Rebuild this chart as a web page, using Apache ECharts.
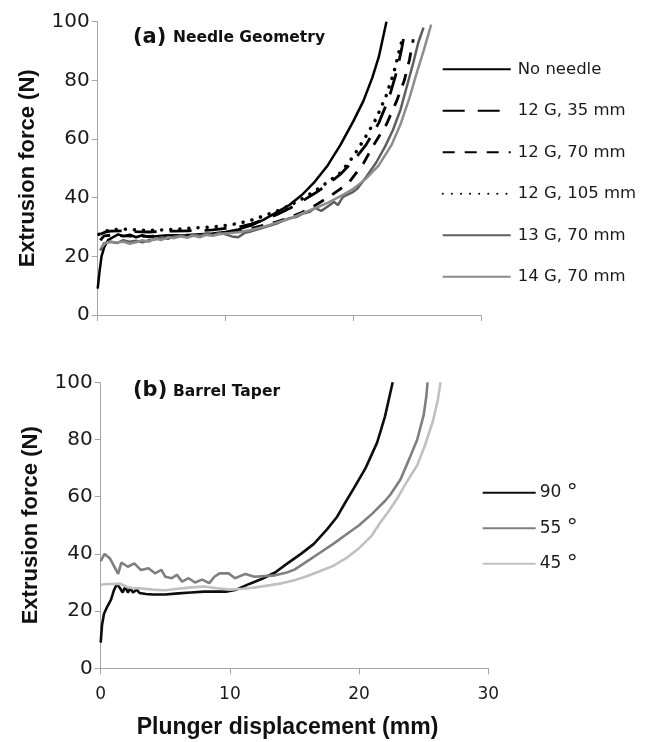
<!DOCTYPE html>
<html>
<head>
<meta charset="utf-8">
<script src="https://cdn.jsdelivr.net/npm/echarts@6/dist/echarts.min.js"></script>
<style>
html,body{margin:0;padding:0;background:#fff;}
#chart{width:650px;height:742px;}
</style>
</head>
<body>
<div id="chart"></div>
<script>
// ---------- Data (x = plunger displacement mm, y = extrusion force N) ----------
const xTicks = [0, 10, 20, 30];
const yTicks = [0, 20, 40, 60, 80, 100];

// Panel (a) Needle Geometry
const namesA = ['No needle', '12 G, 35 mm', '12 G, 70 mm', '12 G, 105 mm', '13 G, 70 mm', '14 G, 70 mm'];
const noNeedle = [[0,9],[0.15,15],[0.3,20],[0.5,23],[0.8,25.5],[1.2,26.5],[1.6,27.5],[2,26.8],[2.5,27.4],[3,26.5],[3.5,27.2],[4,26.6],[5,27],[6,27.2],[7,27.1],[8,27.5],[9,27.8],[10,28.3],[11,29.2],[12,30.5],[13,32.5],[14,35],[15,37.5],[16,41],[17,45.5],[18,51],[19,58],[20,66],[20.8,73],[21.5,81],[22,88],[22.6,100]];
const g12_35 = [[0.2,27.5],[0.6,28.3],[1,28.6],[2,28.7],[3,28.4],[4,28.3],[5,28.5],[6,28.6],[7,28.7],[8,28.8],[9,29],[10,29.5],[11,30],[12,31],[13,32.5],[14,34.2],[15,36.3],[16,38.8],[17,41.5],[18,44.5],[19,48],[20,52.5],[21,58],[22,65.5],[22.8,74],[23.4,83],[23.8,91],[24.1,98]];
const g12_70 = [[0.2,25.5],[0.5,27],[1,27.2],[2,27],[3,26.8],[4,26.8],[5,27],[6,27],[7,27.2],[8,27.3],[9,27.5],[10,28],[11,28.6],[12,29.5],[13,30.6],[14,31.8],[15,33.2],[16,35],[17,37.3],[18,40],[19,43],[19.7,45.4],[20.8,51.7],[21.6,58],[22.6,65],[23.4,73],[24,80],[24.4,87],[24.7,94]];
const g12_105 = [[0.1,27.5],[0.5,28.5],[1,29],[2,29.3],[3,29],[4,28.8],[5,29],[6,29.2],[7,29.5],[8,29.8],[9,30],[10,30.5],[11,31.2],[12,32.3],[13,33.8],[14,35.4],[15,37.3],[16,39.6],[17,42.3],[18,45.3],[19,48.5],[20,54],[21,61],[21.8,67],[22.6,75],[23.2,83],[23.6,90],[23.9,95]];
const g13_70 = [[0.2,22],[0.5,24.5],[1,25],[1.5,24.5],[2,25.5],[2.5,25],[3,25.3],[3.5,24.8],[4,25.5],[4.5,25.8],[5,26.5],[5.5,26],[6,26.8],[6.5,27],[7,26.5],[7.5,27.5],[8,27],[8.5,27.8],[9,27.2],[9.5,28],[10,27.5],[10.5,26.8],[11,26.5],[11.5,28],[12,28.5],[13,29.8],[14,31.2],[15,33],[15.6,33.5],[16,34.5],[16.6,35.2],[17,36.5],[17.5,35.5],[18,37],[18.5,38.5],[18.8,37.5],[19.2,40.3],[20,42],[20.3,43],[21,47],[21.8,52],[22.5,57.5],[23.1,63],[23.7,70],[24.2,78],[24.7,86],[25.1,93],[25.5,98]];
const g14_70 = [[0.3,23],[0.6,24.5],[1,25],[1.5,24.7],[2,25],[2.5,24.3],[3,24.8],[3.5,25.5],[4,25],[4.5,26],[5,25.6],[5.5,26.5],[6,26.2],[6.5,26.8],[7,26.4],[7.5,27],[8,26.5],[8.5,27.3],[9,27],[9.5,27.5],[10,27.8],[11,28.2],[12,29],[13,30.1],[14,31.5],[15,32.8],[16,34.6],[17,36.4],[18,38.2],[19,40.5],[20,43],[21,46.5],[22,51],[23,58],[23.7,65],[24.4,74],[25,83],[25.5,90],[26.1,99]];

// Panel (b) Barrel Taper
const namesB = ['90 °', '55 °', '45 °'];
const taper90 = [[0,9],[0.1,15],[0.25,19],[0.5,21.5],[0.8,24],[1.0,27],[1.25,29.5],[1.5,28],[1.7,26.5],[1.9,28.5],[2.1,26.5],[2.3,28],[2.5,26.5],[2.8,27.5],[3,26.3],[3.5,26],[4,25.8],[5,25.8],[6,26.2],[7,26.5],[8,26.8],[9,26.8],[9.7,26.8],[10.5,27.5],[11.5,29.5],[12.5,31.3],[13.5,33.5],[14.4,36.5],[15.5,40],[16.5,43.5],[17.5,48.5],[18.3,53],[19,58.5],[19.6,63],[20.5,70],[21.4,79],[22,88],[22.6,100]];
const taper55 = [[0,37.5],[0.3,40],[0.7,38.5],[1.0,36],[1.35,33],[1.6,37],[2.1,35.5],[2.6,36.7],[3.1,34.4],[3.7,35],[4.2,33.2],[4.7,34.4],[5,32],[5.5,31.5],[5.9,32.7],[6.3,30.3],[6.8,31.5],[7.3,30],[7.85,31],[8.4,29.8],[8.8,32],[9.2,33.2],[9.9,33.2],[10.4,31.5],[11.2,33],[11.9,32],[13.5,32.5],[14.4,33.5],[15,34.5],[16,37.5],[17,40.5],[18,43.5],[19,46.8],[20,50],[21,54],[22,58.5],[22.4,60.6],[23.2,66],[23.9,73.4],[24.5,80],[25,88.6],[25.2,95],[25.3,100]];
const taper45 = [[0,29.2],[0.5,29.5],[1,29.5],[1.5,29.6],[2,28.5],[2.5,28],[3,28],[4,27.5],[5,27.3],[6,27.8],[7,28.3],[8,28.6],[9,28],[10,27.5],[11,27.8],[12,28.3],[13,29],[14,29.7],[15,30.8],[16,32.3],[17,34],[18,35.8],[19,38.5],[20,42],[21,46.5],[21.6,50.7],[22.3,55],[22.9,59],[23.6,64.5],[24.5,71],[25.1,78],[25.7,86.2],[26.1,94],[26.3,100]];

// ---------- Chart ----------
const chart = echarts.init(document.getElementById('chart'), null, {renderer: 'canvas'});
const axisColor = '#a6a6a6';
const labelColor = '#1a1a1a';

function xAxisCfg(gridIndex, showLabels) {
  return {
    type: 'value', gridIndex: gridIndex,
    min: xTicks[0], max: xTicks[xTicks.length - 1], interval: xTicks[1] - xTicks[0],
    axisLine: {show: true, lineStyle: {color: axisColor, width: 1}},
    axisTick: {show: true, inside: false, length: 6, lineStyle: {color: axisColor}},
    axisLabel: {show: showLabels, margin: 18, color: labelColor, fontFamily: 'DejaVu Sans', fontSize: 17},
    splitLine: {show: false},
    name: showLabels ? 'Plunger displacement (mm)' : '',
    nameLocation: 'middle', nameGap: 48,
    nameTextStyle: {fontFamily: 'Liberation Sans', fontWeight: 'bold', fontSize: 23, color: '#111', padding: [0, 14, 0, 0]}
  };
}
function yAxisCfg(gridIndex) {
  return {
    type: 'value', gridIndex: gridIndex,
    min: yTicks[0], max: yTicks[yTicks.length - 1], interval: yTicks[1] - yTicks[0],
    axisLine: {show: true, lineStyle: {color: axisColor, width: 1}},
    axisTick: {show: true, inside: false, length: 6, lineStyle: {color: axisColor}},
    axisLabel: {show: true, margin: 8, color: labelColor, fontFamily: 'DejaVu Sans', fontSize: 20},
    splitLine: {show: false},
    name: 'Extrusion force (N)',
    nameLocation: 'middle', nameRotate: 90, nameGap: 59,
    nameTextStyle: {fontFamily: 'Liberation Sans', fontWeight: 'bold', fontSize: 22, color: '#111'}
  };
}

function lineSeries(name, data, gi, color, width, dash, cap) {
  return {
    type: 'line', name: name, data: data,
    xAxisIndex: gi, yAxisIndex: gi,
    symbol: 'none', showSymbol: false, smooth: false,
    lineStyle: {color: color, width: width, type: dash, cap: cap || 'butt'},
    itemStyle: {color: color},
    z: 3
  };
}

const hiddenSymbol = {color: 'rgba(0,0,0,0)', borderColor: 'rgba(0,0,0,0)', borderWidth: 0, opacity: 0};

const option = {
  animation: false,
  backgroundColor: '#fff',
  grid: [
    {left: 97.7, top: 21.7, width: 383.3, height: 293.3},
    {left: 100.7, top: 382.3, width: 387.6, height: 286}
  ],
  xAxis: [xAxisCfg(0, false), xAxisCfg(1, true)],
  yAxis: [yAxisCfg(0), yAxisCfg(1)],
  legend: [
    {
      data: namesA, orient: 'vertical', left: 441.7, top: 60.8, padding: 0,
      itemWidth: 68, itemHeight: 16, itemGap: 24.5,
      itemStyle: hiddenSymbol,
      textStyle: {fontFamily: 'DejaVu Sans', fontSize: 16.5, color: labelColor, lineHeight: 17, padding: [0, 0, 0, 2]},
      selectedMode: false
    },
    {
      data: namesB, orient: 'vertical', left: 481.7, top: 481.8, padding: 0,
      itemWidth: 53, itemHeight: 16, itemGap: 13.5,
      itemStyle: hiddenSymbol,
      selectedMode: false,
      formatter: function (n) { return '{t|' + n.replace(' °', '') + ' }{d|°}'; },
      textStyle: {
        color: labelColor, lineHeight: 22, padding: [0, 0, 0, -1],
        rich: {
          t: {fontFamily: 'DejaVu Sans', fontSize: 17, color: labelColor, lineHeight: 22},
          d: {fontFamily: 'DejaVu Sans', fontSize: 22, color: labelColor, lineHeight: 22}
        }
      }
    }
  ],
  graphic: [
    {type: 'text', left: 133, top: 27, style: {text: '(a)', font: 'bold 21px "DejaVu Sans"', fill: '#111'}},
    {type: 'text', left: 173, top: 30, style: {text: 'Needle Geometry', font: 'bold 15.5px "DejaVu Sans"', fill: '#111'}},
    {type: 'text', left: 133, top: 380, style: {text: '(b)', font: 'bold 21px "DejaVu Sans"', fill: '#111'}},
    {type: 'text', left: 173, top: 384, style: {text: 'Barrel Taper', font: 'bold 15.5px "DejaVu Sans"', fill: '#111'}}
  ],
  series: [
    lineSeries(namesA[0], noNeedle, 0, '#000000', 2.5, 'solid'),
    lineSeries(namesA[1], g12_35, 0, '#000000', 2.8, [22, 13]),
    lineSeries(namesA[2], g12_70, 0, '#000000', 2.8, [12, 10]),
    lineSeries(namesA[3], g12_105, 0, '#000000', 3.5, [0.1, 9], 'round'),
    lineSeries(namesA[4], g13_70, 0, '#5e5e5e', 2.5, 'solid'),
    lineSeries(namesA[5], g14_70, 0, '#8c8c8c', 2.5, 'solid'),
    lineSeries(namesB[0], taper90, 1, '#0d0d0d', 2.6, 'solid'),
    lineSeries(namesB[1], taper55, 1, '#7f7f7f', 2.6, 'solid'),
    lineSeries(namesB[2], taper45, 1, '#c0c0c0', 2.6, 'solid')
  ]
};
chart.setOption(option);
</script>
</body>
</html>
